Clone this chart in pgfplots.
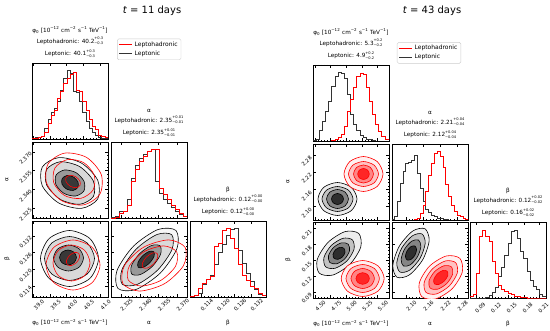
\documentclass[border=0pt]{standalone}
\usepackage{pgfplots}
\pgfplotsset{compat=1.18}
\usepackage{pgfplotstable}
\usepackage{fontspec}
\setmainfont{DejaVu Sans}
\newcommand\ud[2]{\rlap{\raisebox{3.1pt}{\fontsize{3.6}{4}\selectfont #1}}\raisebox{-1.9pt}{\fontsize{3.6}{4}\selectfont #2}}
\newcommand\phiunit{φ\textsubscript{0} [10\textsuperscript{−12} cm\textsuperscript{−2} s\textsuperscript{−1} TeV\textsuperscript{−1}]}

% ---- histograms: bin left edges, Leptonic (b), Leptohadronic (r)
\pgfplotstableread{
x b r
38.96 1 1
39.055 2 1
39.15 3 2
39.245 4 4
39.34 16 9
39.435 28 23
39.53 38 35
39.625 45 42
39.72 54 59
39.815 71 69
39.91 88 81
40.005 100 88
40.1 95 93
40.195 69 97
40.29 67 71
40.385 54 69
40.48 38 55
40.575 26 42
40.67 16 28
40.765 9 19
40.86 5 14
40.955 2 6
41.05 1 4
41.145 1 3
41.24 1 3
}\tLphi
\pgfplotstableread{
x b r
2.317 1 0
2.3202 2 1
2.3234 9 7
2.3266 10 10
2.3298 27 19
2.333 58 53
2.3362 77 70
2.3394 87 82
2.3426 92 89
2.3458 97 96
2.349 100 99
2.3522 53 100
2.3554 36 43
2.3586 27 34
2.3618 22 27
2.365 15 19
2.3682 9 12
2.3714 5 7
2.3746 2 2
2.3778 2 2
}\tLalpha
\pgfplotstableread{
x b r
0.110 1 1
0.11144 2 3
0.11288 6 13
0.11432 18 20
0.11576 25 25
0.1172 32 30
0.11864 47 73
0.12008 64 78
0.12152 76 96
0.12296 90 99
0.1244 98 85
0.12584 99 71
0.12728 68 47
0.12872 49 32
0.13016 35 24
0.1316 23 16
0.13304 11 12
0.13448 4 6
0.13592 2 2
0.13736 2 2
}\tLbeta
\pgfplotstableread{
x b r
4.47 1 0
4.52 3 0
4.57 16 0
4.62 28 0
4.67 43 0
4.72 58 0
4.77 79 1
4.82 94 2
4.87 100 5
4.92 98 10
4.97 91 21
5.02 67 43
5.07 38 60
5.12 24 78
5.17 16 94
5.22 8 98
5.27 5 97
5.32 3 77
5.37 2 57
5.42 1 38
5.47 0 24
5.52 0 14
5.57 0 7
5.62 0 3
5.67 0 2
5.72 0 2
}\tRphi
\pgfplotstableread{
x b r
2.05 1 0
2.06 6 0
2.07 27 0
2.08 53 0
2.09 70 0
2.10 82 0
2.11 84 0
2.12 87 0
2.13 94 1
2.14 68 2
2.15 46 10
2.16 27 22
2.17 15 41
2.18 11 65
2.19 7 82
2.20 5 96
2.21 3 100
2.22 2 92
2.23 1 77
2.24 1 51
2.25 0 34
2.26 0 22
2.27 0 12
2.28 0 7
2.29 0 5
2.30 0 2
2.31 0 1
2.32 0 1
}\tRalpha
\pgfplotstableread{
x b r
0.078 0 2
0.084 0 6
0.090 0 36
0.096 0 89
0.102 0 98
0.108 1 90
0.114 4 82
0.120 8 53
0.126 16 36
0.132 31 19
0.138 45 13
0.144 62 9
0.150 79 7
0.156 96 5
0.162 98 3
0.168 86 2
0.174 67 1
0.180 57 1
0.186 38 0
0.192 25 0
0.198 17 0
0.204 12 0
0.210 6 0
0.216 3 0
0.222 2 0
0.228 2 0
}\tRbeta

\pgfplotsset{
 cp/.style={scale only axis, width=76pt, height=76pt, anchor=south west,
  tick align=inside, major tick length=2.6pt, minor tick length=1.4pt,
  minor tick num=4,
  tick style={black, line width=0.35pt},
  axis line style={line width=0.5pt},
  tick label style={font=\fontsize{5.3}{6}\selectfont, inner sep=0.5pt},
  xticklabel style={rotate=45, anchor=center, yshift=-9.5pt, xshift=-1.5pt},
  yticklabel style={rotate=45, anchor=center, xshift=-9pt},
  label style={font=\fontsize{5.7}{6}\selectfont},
  xlabel style={at={(axis description cs:0.5,-0.34)}, anchor=center},
  ylabel style={at={(axis description cs:-0.33,0.5)}, anchor=center},
  xticklabels={}, yticklabels={}},
 diag/.style={cp, ymin=0, ymax=110, ytick=\empty,
  title style={font=\fontsize{5.7}{9.5}\selectfont, align=center, at={(0.5,1)}, anchor=south, yshift=-4pt}},
 lg/.style={legend style={anchor=north west, draw=black!20, rounded corners=1.5pt, fill=white,
   font=\fontsize{6}{6}\selectfont, inner xsep=1.5pt, inner ysep=1pt, row sep=-1.2pt},
   legend cell align=left,
   legend image code/.code={\draw[##1] (0pt,0pt) -- (13pt,0pt);}},
 hb/.style={const plot, black!80, line width=0.6pt, forget plot},
 hr/.style={const plot, red, line width=0.6pt, forget plot},
 cb/.style={smooth cycle, black, line width=0.6pt},
 cr/.style={smooth cycle, red, line width=0.6pt},
 LP/.style={xmin=38.96, xmax=41.24, xtick={39.0,39.5,40.0,40.5,41.0}},
 LA/.style={xmin=2.317, xmax=2.3778, xtick={2.325,2.340,2.355,2.370}},
 LB/.style={xmin=0.110, xmax=0.13736, xtick={0.114,0.120,0.126,0.132}},
 LAy/.style={ymin=2.317, ymax=2.3778, ytick={2.325,2.340,2.355,2.370}},
 LBy/.style={ymin=0.110, ymax=0.13736, ytick={0.114,0.120,0.126,0.132}},
 RP/.style={xmin=4.47, xmax=5.686, xtick={4.50,4.75,5.00,5.25,5.50}},
 RA/.style={xmin=2.052, xmax=2.318, xtick={2.10,2.16,2.22,2.28}},
 RB/.style={xmin=0.078, xmax=0.2224, xtick={0.09,0.12,0.15,0.18,0.21}},
 RAy/.style={ymin=2.052, ymax=2.318, ytick={2.10,2.16,2.22,2.28}},
 RBy/.style={ymin=0.078, ymax=0.2224, ytick={0.09,0.12,0.15,0.18,0.21}},
}

\begin{document}
\begin{tikzpicture}
\path[use as bounding box] (0,0) rectangle (550pt,330pt);
\node[font=\fontsize{10}{12}\selectfont] at (152pt,319pt) {\textit{t} = 11 days};
\node[font=\fontsize{10}{12}\selectfont] at (432pt,319pt) {\textit{t} = 43 days};

% ================= LEFT: t = 11 days =================
\begin{axis}[diag, lg, LP, at={(32pt,191pt)}, legend style={at={(1.12,1.32)}},
 title={\phiunit\\[1pt]Leptohadronic: 40.2\ud{+0.3}{−0.3}\\[3pt]Leptonic: 40.1\ud{+0.3}{−0.3}}]
\addlegendimage{red, line width=0.9pt}\addlegendentry{Leptohadronic}
\addlegendimage{black!80, line width=0.9pt}\addlegendentry{Leptonic}
\addplot[hb] table[x=x,y=b]{\tLphi};
\addplot[hr] table[x=x,y=r]{\tLphi};
\end{axis}

\begin{axis}[cp, LP, LAy, at={(32pt,112pt)}, yticklabels={2.325,2.340,2.355,2.370}, ylabel={α}]
\addplot[cb, fill=black!3] coordinates {(40.931,2.3322) (40.932,2.3472) (40.445,2.3609) (39.757,2.3653) (39.269,2.3578) (39.268,2.3428) (39.755,2.3291) (40.443,2.3247)};
\addplot[cb, fill=black!15] coordinates {(40.801,2.3342) (40.798,2.3467) (40.385,2.3582) (39.806,2.3620) (39.399,2.3558) (39.402,2.3433) (39.815,2.3318) (40.394,2.3280)};
\addplot[cb, fill=black!40] coordinates {(40.516,2.3386) (40.521,2.3463) (40.28,2.3533) (39.934,2.3554) (39.684,2.3514) (39.679,2.3437) (39.92,2.3367) (40.266,2.3346)};
\addplot[cb, fill=black!78] coordinates {(40.334,2.3414) (40.34,2.3459) (40.205,2.3498) (40.009,2.3510) (39.866,2.3486) (39.86,2.3441) (39.995,2.3402) (40.191,2.3390)};
\addplot[cr] coordinates {(40.999,2.3362) (41.036,2.3519) (40.595,2.3655) (39.935,2.3689) (39.441,2.3602) (39.404,2.3445) (39.845,2.3309) (40.505,2.3275)};
\addplot[cr] coordinates {(40.792,2.3394) (40.826,2.3513) (40.505,2.3614) (40.018,2.3637) (39.648,2.3570) (39.614,2.3451) (39.935,2.3350) (40.422,2.3327)};
\addplot[cr] coordinates {(40.398,2.3430) (40.396,2.3466) (40.273,2.3500) (40.101,2.3512) (39.982,2.3494) (39.984,2.3458) (40.107,2.3424) (40.279,2.3412)};
\end{axis}

\begin{axis}[diag, LA, at={(111pt,112pt)},
 title={α\\Leptohadronic: 2.35\ud{+0.01}{−0.01}\\[3pt]Leptonic: 2.35\ud{+0.01}{−0.01}}]
\addplot[hb] table[x=x,y=b]{\tLalpha};
\addplot[hr] table[x=x,y=r]{\tLalpha};
\end{axis}

\begin{axis}[cp, LP, LBy, at={(32pt,33pt)}, xticklabels={39.0,39.5,40.0,40.5,41.0},
 yticklabels={0.114,0.120,0.126,0.132}, xlabel={\phiunit}, ylabel={β}]
\addplot[cb, fill=black!3] coordinates {(40.955,0.12386) (40.70,0.13099) (40.085,0.13394) (39.47,0.13099) (39.215,0.12386) (39.47,0.11673) (40.085,0.11378) (40.70,0.11673)};
\addplot[cb, fill=black!15] coordinates {(40.835,0.12386) (40.615,0.12946) (40.085,0.13178) (39.555,0.12946) (39.335,0.12386) (39.555,0.11826) (40.085,0.11594) (40.615,0.11826)};
\addplot[cb, fill=black!40] coordinates {(40.505,0.12404) (40.373,0.12735) (40.055,0.12872) (39.737,0.12735) (39.605,0.12404) (39.737,0.12073) (40.055,0.11936) (40.373,0.12073)};
\addplot[cb, fill=black!78] coordinates {(40.295,0.12422) (40.22,0.12613) (40.04,0.12692) (39.86,0.12613) (39.785,0.12422) (39.86,0.12231) (40.04,0.12152) (40.22,0.12231)};
\addplot[cr] coordinates {(41.00,0.12152) (40.763,0.12788) (40.19,0.13052) (39.617,0.12788) (39.38,0.12152) (39.617,0.11516) (40.19,0.11252) (40.763,0.11516)};
\addplot[cr] coordinates {(40.70,0.12224) (40.537,0.12682) (40.145,0.12872) (39.753,0.12682) (39.59,0.12224) (39.753,0.11766) (40.145,0.11576) (40.537,0.11766)};
\addplot[cr] coordinates {(40.36,0.12572) (40.235,0.12602) (40.084,0.12495) (39.995,0.12314) (40.02,0.12164) (40.145,0.12134) (40.296,0.12241) (40.385,0.12422)};
\end{axis}

\begin{axis}[cp, LA, LBy, at={(111pt,33pt)}, xticklabels={2.325,2.340,2.355,2.370}, xlabel={α}]
\addplot[cb, fill=black!3] coordinates {(2.3690,0.13394) (2.3546,0.1343) (2.33506,0.12833) (2.3218,0.11954) (2.3226,0.11306) (2.337,0.1127) (2.35654,0.11867) (2.3698,0.12746)};
\addplot[cb, fill=black!15] coordinates {(2.3656,0.13241) (2.3538,0.1325) (2.33732,0.12732) (2.3258,0.1199) (2.326,0.11459) (2.3378,0.1145) (2.35428,0.11968) (2.3658,0.1271)};
\addplot[cb, fill=black!40] coordinates {(2.35631,0.12841) (2.3494,0.12854) (2.33991,0.12561) (2.3334,0.12134) (2.33369,0.11823) (2.3406,0.1181) (2.35009,0.12103) (2.3566,0.1253)};
\addplot[cb, fill=black!78] coordinates {(2.35122,0.1263) (2.3474,0.12638) (2.34217,0.12477) (2.3386,0.12242) (2.33878,0.1207) (2.3426,0.12062) (2.34783,0.12223) (2.3514,0.12458)};
\addplot[cr] coordinates {(2.37634,0.12782) (2.36308,0.13055) (2.343,0.12789) (2.32783,0.12138) (2.32646,0.11486) (2.33972,0.11213) (2.3598,0.11479) (2.37497,0.1213)};
\addplot[cr] coordinates {(2.3696,0.1262) (2.35921,0.12839) (2.34356,0.12634) (2.33178,0.12125) (2.3308,0.11612) (2.34119,0.11393) (2.35684,0.11598) (2.36862,0.12107)};
\addplot[cr] coordinates {(2.35386,0.12569) (2.3502,0.12584) (2.34537,0.12441) (2.3422,0.12224) (2.34254,0.12059) (2.3462,0.12044) (2.35103,0.12187) (2.3542,0.12404)};
\end{axis}

\begin{axis}[diag, LB, at={(190pt,33pt)}, xticklabels={0.114,0.120,0.126,0.132}, xlabel={β},
 title={β\\Leptohadronic: 0.12\ud{+0.00}{−0.00}\\[3pt]Leptonic: 0.12\ud{+0.00}{−0.00}}]
\addplot[hb] table[x=x,y=b]{\tLbeta};
\addplot[hr] table[x=x,y=r]{\tLbeta};
\end{axis}

% ================= RIGHT: t = 43 days =================
\begin{axis}[diag, lg, RP, at={(313pt,189pt)}, legend style={at={(1.105,1.30)}},
 title={\phiunit\\[1pt]Leptohadronic: 5.3\ud{+0.2}{−0.2}\\[3pt]Leptonic: 4.9\ud{+0.2}{−0.2}}]
\addlegendimage{red, line width=0.9pt}\addlegendentry{Leptohadronic}
\addlegendimage{black!80, line width=0.9pt}\addlegendentry{Leptonic}
\addplot[hb] table[x=x,y=b]{\tRphi};
\addplot[hr] table[x=x,y=r]{\tRphi};
\end{axis}

\begin{axis}[cp, RP, RAy, at={(313pt,110pt)}, yticklabels={2.10,2.16,2.22,2.28}, ylabel={α}]
\addplot[cb, fill=black!7] coordinates {(5.174,2.1255) (5.0826,2.16634) (4.862,2.18325) (4.6414,2.16634) (4.55,2.1255) (4.6414,2.08466) (4.862,2.06775) (5.0826,2.08466)};
\addplot[cb, fill=black!24] coordinates {(5.11,2.1255) (5.0374,2.15644) (4.862,2.16925) (4.6866,2.15644) (4.614,2.1255) (4.6866,2.09456) (4.862,2.08175) (5.0374,2.09456)};
\addplot[cb, fill=black!48] coordinates {(5.038,2.1255) (4.9865,2.14902) (4.862,2.15875) (4.7375,2.14902) (4.686,2.1255) (4.7375,2.10198) (4.862,2.09225) (4.9865,2.10198)};
\addplot[cb, fill=black!82] coordinates {(4.958,2.1255) (4.9299,2.1391) (4.862,2.14475) (4.7941,2.1391) (4.766,2.1255) (4.7941,2.1119) (4.862,2.10625) (4.9299,2.1119)};
\addplot[cr, fill=red!6] coordinates {(5.59,2.213) (5.4986,2.2563) (5.278,2.27425) (5.0574,2.2563) (4.966,2.213) (5.0574,2.1697) (5.278,2.15175) (5.4986,2.1697)};
\addplot[cr, fill=red!24] coordinates {(5.518,2.213) (5.4477,2.24394) (5.278,2.25675) (5.1083,2.24394) (5.038,2.213) (5.1083,2.18206) (5.278,2.16925) (5.4477,2.18206)};
\addplot[cr, fill=red!48] coordinates {(5.438,2.213) (5.3911,2.23527) (5.278,2.2445) (5.1649,2.23527) (5.118,2.213) (5.1649,2.19073) (5.278,2.1815) (5.3911,2.19073)};
\addplot[cr, fill=red!85] coordinates {(5.3708,2.213) (5.3436,2.2266) (5.278,2.23225) (5.2124,2.2266) (5.1852,2.213) (5.2124,2.1994) (5.278,2.19375) (5.3436,2.1994)};
\end{axis}

\begin{axis}[diag, RA, at={(392pt,110pt)},
 title={α\\Leptohadronic: 2.21\ud{+0.04}{−0.04}\\[3pt]Leptonic: 2.12\ud{+0.04}{−0.04}}]
\addplot[hb] table[x=x,y=b]{\tRalpha};
\addplot[hr] table[x=x,y=r]{\tRalpha};
\end{axis}

\begin{axis}[cp, RP, RBy, at={(313pt,32pt)}, xticklabels={4.50,4.75,5.00,5.25,5.50},
 yticklabels={0.09,0.12,0.15,0.18,0.21}, xlabel={\phiunit}, ylabel={β}]
\addplot[cb, fill=black!7] coordinates {(5.2028,0.20052) (4.986,0.20423) (4.7106,0.18372) (4.538,0.15102) (4.5692,0.12528) (4.786,0.12157) (5.0614,0.14208) (5.234,0.17478)};
\addplot[cb, fill=black!24] coordinates {(5.1009,0.18842) (4.95,0.1914) (4.7615,0.17768) (4.646,0.1553) (4.6711,0.13738) (4.822,0.1344) (5.0105,0.14812) (5.126,0.1705)};
\addplot[cb, fill=black!48] coordinates {(5.033,0.18036) (4.926,0.18285) (4.7954,0.17365) (4.718,0.15815) (4.739,0.14544) (4.846,0.14295) (4.9766,0.15215) (5.054,0.16765)};
\addplot[cb, fill=black!82] coordinates {(4.9652,0.1723) (4.902,0.1743) (4.8294,0.16963) (4.79,0.161) (4.8068,0.1535) (4.87,0.1515) (4.9426,0.15617) (4.982,0.1648)};
\addplot[cr, fill=red!6] coordinates {(5.609,0.11505) (5.5082,0.13923) (5.265,0.14925) (5.0218,0.13923) (4.921,0.11505) (5.0218,0.09087) (5.265,0.08085) (5.5082,0.09087)};
\addplot[cr, fill=red!24] coordinates {(5.5322,0.11505) (5.454,0.13386) (5.265,0.14165) (5.076,0.13386) (4.9978,0.11505) (5.076,0.09624) (5.265,0.08845) (5.454,0.09624)};
\addplot[cr, fill=red!48] coordinates {(5.4522,0.11505) (5.3973,0.12848) (5.265,0.13405) (5.1327,0.12848) (5.0778,0.11505) (5.1327,0.10162) (5.265,0.09605) (5.3973,0.10162)};
\addplot[cr, fill=red!85] coordinates {(5.3722,0.11505) (5.3408,0.12284) (5.265,0.12607) (5.1892,0.12284) (5.1578,0.11505) (5.1892,0.10726) (5.265,0.10403) (5.3408,0.10726)};
\end{axis}

\begin{axis}[cp, RA, RBy, at={(392pt,32pt)}, xticklabels={2.10,2.16,2.22,2.28}, xlabel={α}]
\addplot[cb, fill=black!7] coordinates {(2.1675,0.20958) (2.12428,0.20515) (2.07758,0.17633) (2.0549,0.14002) (2.0695,0.11742) (2.11272,0.12185) (2.15942,0.15067) (2.1821,0.18698)};
\addplot[cb, fill=black!24] coordinates {(2.157,0.1997) (2.12326,0.19614) (2.08668,0.17348) (2.06873,0.14499) (2.08,0.1273) (2.11374,0.13086) (2.15032,0.15352) (2.16827,0.18201)};
\addplot[cb, fill=black!48] coordinates {(2.14475,0.18818) (2.12102,0.186) (2.09575,0.17063) (2.08385,0.15111) (2.09225,0.13882) (2.11598,0.141) (2.14125,0.15637) (2.15315,0.17589)};
\addplot[cb, fill=black!82] coordinates {(2.1325,0.17667) (2.11878,0.17583) (2.10485,0.16778) (2.09897,0.15721) (2.1045,0.15033) (2.11822,0.15117) (2.13215,0.15922) (2.13803,0.16979)};
\addplot[cr, fill=red!6] coordinates {(2.28962,0.15327) (2.24205,0.15785) (2.18321,0.13849) (2.14755,0.10655) (2.15598,0.08073) (2.20355,0.07615) (2.26239,0.09551) (2.29805,0.12745)};
\addplot[cr, fill=red!24] coordinates {(2.27477,0.14522) (2.23855,0.14835) (2.19308,0.13313) (2.16505,0.10845) (2.17083,0.08878) (2.20705,0.08565) (2.25252,0.10087) (2.28055,0.12555)};
\addplot[cr, fill=red!48] coordinates {(2.2599,0.13714) (2.23418,0.13933) (2.20176,0.12842) (2.18167,0.11082) (2.1857,0.09686) (2.21142,0.09467) (2.24384,0.10558) (2.26393,0.12318)};
\addplot[cr, fill=red!85] coordinates {(2.24506,0.12908) (2.2298,0.1303) (2.21041,0.12373) (2.1983,0.1132) (2.20054,0.10492) (2.2158,0.1037) (2.23519,0.11027) (2.2473,0.1208)};
\end{axis}

\begin{axis}[diag, RB, at={(470pt,32pt)}, xticklabels={0.09,0.12,0.15,0.18,0.21}, xlabel={β},
 xticklabel style={xshift=-2.5pt},
 title={β\\Leptohadronic: 0.12\ud{+0.02}{−0.02}\\[3pt]Leptonic: 0.16\ud{+0.02}{−0.02}}]
\addplot[hb] table[x=x,y=b]{\tRbeta};
\addplot[hr] table[x=x,y=r]{\tRbeta};
\end{axis}
\end{tikzpicture}
\end{document}
